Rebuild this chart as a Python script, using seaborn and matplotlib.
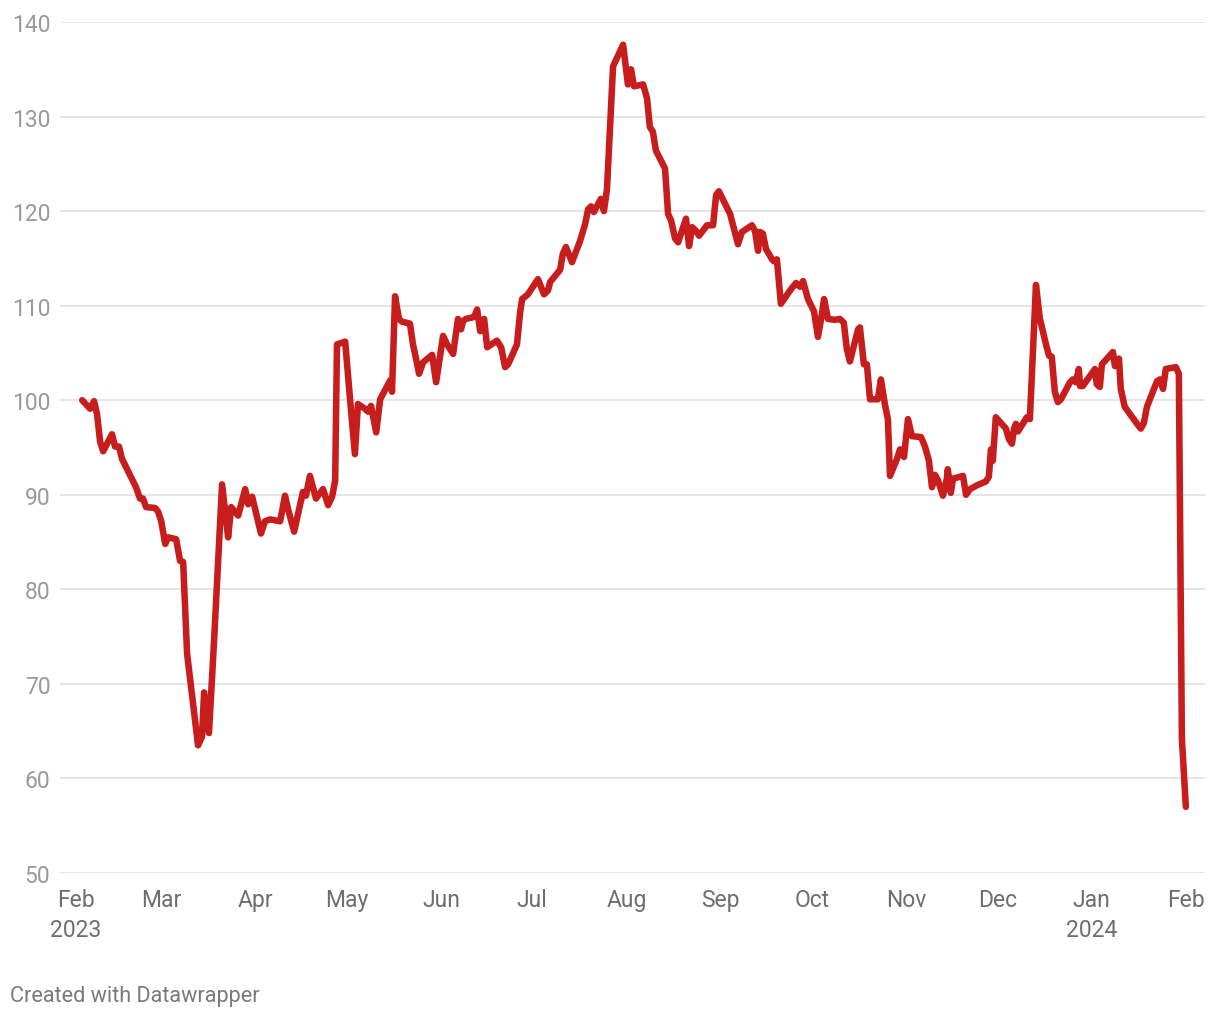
import numpy as np
import pandas as pd
import matplotlib
matplotlib.use("Agg")
import matplotlib.pyplot as plt
import matplotlib.dates as mdates
import seaborn as sns

# ---- data ----
start_date = "2023-02-01"
day_offsets = [
    2.0, 4.6, 5.9, 6.9, 7.9, 8.9, 11.8, 12.8, 14.1, 15.1, 17.1, 19.7, 21.0, 22.0, 23.0,
    26.0, 27.0, 28.0, 29.3, 30.3, 32.9, 34.2, 35.2, 36.5, 40.1, 41.4, 42.1, 43.7, 45.4,
    48.0, 50.0, 51.0, 53.3, 55.6, 56.6, 57.9, 60.8, 62.1, 63.8, 67.1, 68.7, 69.7, 71.7,
    74.6, 75.6, 76.9, 78.9, 81.2, 82.9, 84.2, 85.2, 85.8, 88.5, 90.1, 91.7, 92.7, 95.0,
    96.0, 97.0, 98.7, 100.0, 103.3, 103.9, 104.9, 106.2, 107.2, 109.8, 110.8, 111.8,
    112.8, 114.1, 117.1, 118.4, 120.7, 122.0, 124.0, 125.6, 126.6, 127.3, 128.2, 130.9,
    131.9, 132.9, 134.2, 135.2, 138.4, 139.8, 141.1, 142.1, 145.0, 146.0, 146.7, 148.6,
    151.9, 153.9, 155.2, 155.9, 158.2, 159.2, 160.1, 161.1, 163.1, 165.7, 167.4, 168.4,
    169.4, 170.3, 172.6, 173.6, 174.6, 176.6, 179.9, 181.5, 182.5, 183.5, 186.5, 187.8,
    188.7, 189.7, 190.7, 193.7, 194.7, 195.7, 197.0, 198.0, 200.6, 201.6, 202.6, 203.9,
    204.9, 207.5, 209.5, 210.5, 211.4, 215.1, 217.7, 219.0, 222.3, 223.3, 224.3, 224.9,
    225.9, 226.9, 228.9, 229.5, 230.5, 231.8, 234.8, 236.8, 238.1, 239.1, 240.7, 242.7,
    244.0, 245.3, 246.0, 247.3, 249.6, 251.2, 252.5, 253.5, 254.5, 257.2, 257.8, 259.1,
    260.1, 261.1, 263.7, 264.7, 266.0, 267.0, 267.7, 270.0, 271.0, 272.3, 273.6, 274.9,
    277.9, 279.2, 280.5, 281.5, 282.5, 283.5, 285.1, 286.4, 286.7, 287.7, 288.4, 291.7,
    292.7, 294.0, 296.3, 299.2, 300.2, 300.9, 301.5, 302.5, 305.8, 306.8, 307.8, 308.5,
    309.1, 309.8, 312.7, 313.7, 315.7, 317.0, 319.0, 320.0, 320.9, 321.9, 322.9, 323.9,
    326.9, 327.8, 328.8, 329.8, 330.2, 331.1, 335.1, 335.7, 336.7, 337.4, 341.0, 341.7,
    343.0, 343.6, 344.9, 349.2, 350.2, 351.2, 352.2, 355.5, 356.5, 357.5, 358.4, 361.7,
    362.7, 363.7, 365.0,
]
values = [
    100.0, 99.1, 99.9, 98.5, 95.6, 94.6, 96.4, 95.1, 95.1, 93.8, 92.5, 90.8, 89.6, 89.6, 88.7,
    88.6, 88.2, 87.2, 84.8, 85.5, 85.3, 83.0, 82.9, 73.2, 63.5, 64.4, 69.1, 64.8, 74.7,
    91.1, 85.5, 88.7, 87.8, 90.6, 89.0, 89.8, 85.9, 87.2, 87.4, 87.2, 89.9, 88.5, 86.1,
    90.3, 89.9, 92.0, 89.6, 90.6, 88.9, 89.8, 91.5, 105.9, 106.2, 100.1, 94.3, 99.6, 99.1,
    98.8, 99.4, 96.6, 100.1, 102.1, 100.9, 111.0, 108.6, 108.3, 108.1, 105.9, 104.4,
    102.8, 104.0, 104.8, 101.9, 106.8, 105.9, 104.9, 108.6, 107.5, 108.4, 108.6, 108.8,
    109.6, 107.3, 108.6, 105.6, 106.3, 105.6, 103.5, 103.8, 105.9, 109.2, 110.7, 111.2,
    112.8, 111.2, 111.6, 112.5, 113.4, 113.8, 115.5, 116.2, 114.6, 116.8, 118.6, 120.2,
    120.5, 119.9, 121.3, 120.0, 122.3, 135.3, 137.6, 133.4, 135.0, 133.2, 133.4, 131.9,
    128.9, 128.4, 126.4, 124.5, 119.7, 119.0, 117.1, 116.7, 119.2, 116.3, 118.3, 117.9,
    117.4, 118.5, 118.5, 121.7, 122.1, 119.7, 116.5, 117.8, 118.5, 117.9, 115.8, 117.8,
    117.6, 116.0, 114.9, 114.7, 114.9, 110.2, 111.6, 112.4, 112.0, 112.6, 110.7, 109.4,
    106.7, 109.1, 110.7, 108.6, 108.5, 108.6, 108.2, 105.4, 104.1, 107.5, 107.7, 103.8,
    103.8, 100.1, 100.1, 102.2, 99.6, 98.0, 92.0, 93.8, 94.8, 94.0, 98.0, 96.2,
    96.1, 95.1, 93.6, 90.8, 92.1, 91.5, 89.9, 91.7, 92.7, 90.2, 91.7, 92.0,
    90.0, 90.6, 91.0, 91.4, 91.9, 94.8, 93.6, 98.2, 97.0, 95.9, 95.4, 97.0,
    97.5, 96.7, 98.2, 98.0, 112.2, 108.6, 105.9, 104.7, 104.6, 100.9, 99.8, 100.1,
    101.9, 102.2, 101.9, 103.3, 101.5, 101.5, 103.3, 101.7, 101.4, 103.8, 105.1, 103.6,
    104.4, 101.2, 99.3, 97.4, 97.0, 97.6, 99.3, 102.0, 102.2, 101.2, 103.3, 103.5,
    102.8, 64.2, 57.0,
]
tick_dates = ["2023-02-01", "2023-03-01", "2023-04-01", "2023-05-01", "2023-06-01",
              "2023-07-01", "2023-08-01", "2023-09-01", "2023-10-01", "2023-11-01",
              "2023-12-01", "2024-01-01", "2024-02-01"]
tick_labels = ["Feb\n2023", "Mar", "Apr", "May", "Jun", "Jul", "Aug", "Sep", "Oct",
               "Nov", "Dec", "Jan\n2024", "Feb"]
y_ticks = [50, 60, 70, 80, 90, 100, 110, 120, 130, 140]

# ---- build frame ----
t0 = pd.Timestamp(start_date)
df = pd.DataFrame({
    "date": t0 + pd.to_timedelta(day_offsets, unit="D"),
    "value": values,
})

sns.set_theme(style="white")
plt.rcParams["font.family"] = ["Roboto", "DejaVu Sans"]

fig = plt.figure(figsize=(12.2, 10.2), dpi=100)
ax = fig.add_axes([60 / 1220, 1 - 874 / 1020, (1205 - 60) / 1220, (874 - 23) / 1020])

sns.lineplot(data=df, x="date", y="value", ax=ax, estimator=None, sort=False,
             color="#c71e1d", linewidth=4.7, solid_joinstyle="round",
             solid_capstyle="round", zorder=3)

ax.set_xlim(t0 - pd.Timedelta(days=5.3), t0 + pd.Timedelta(days=371.3))
ax.set_ylim(50, 140)
ax.set_yticks(y_ticks)
ax.set_yticklabels([str(v) for v in y_ticks])
ax.set_xticks(pd.to_datetime(tick_dates))
ax.set_xticklabels(tick_labels)

for s in ax.spines.values():
    s.set_visible(False)
ax.grid(axis="y", color="#e3e3e3", linewidth=1.3, zorder=0)
ax.grid(axis="x", visible=False)
ax.set_xlabel("")
ax.set_ylabel("")
ax.tick_params(axis="y", length=0, pad=7, labelsize=16.5, labelcolor="#9a9a9a")
ax.tick_params(axis="x", length=0, pad=11, labelsize=16.5, labelcolor="#6e6e6e")
for lab in ax.get_xticklabels():
    lab.set_linespacing(1.4)
    lab.set_verticalalignment("top")
ax.set_facecolor("white")
fig.patch.set_facecolor("white")

fig.text(10 / 1220, 1 - 997 / 1020, "Created with Datawrapper", fontsize=15.6,
         color="#7a7a7a", ha="left", va="center")

fig.savefig("out.png", dpi=100, facecolor="white")
